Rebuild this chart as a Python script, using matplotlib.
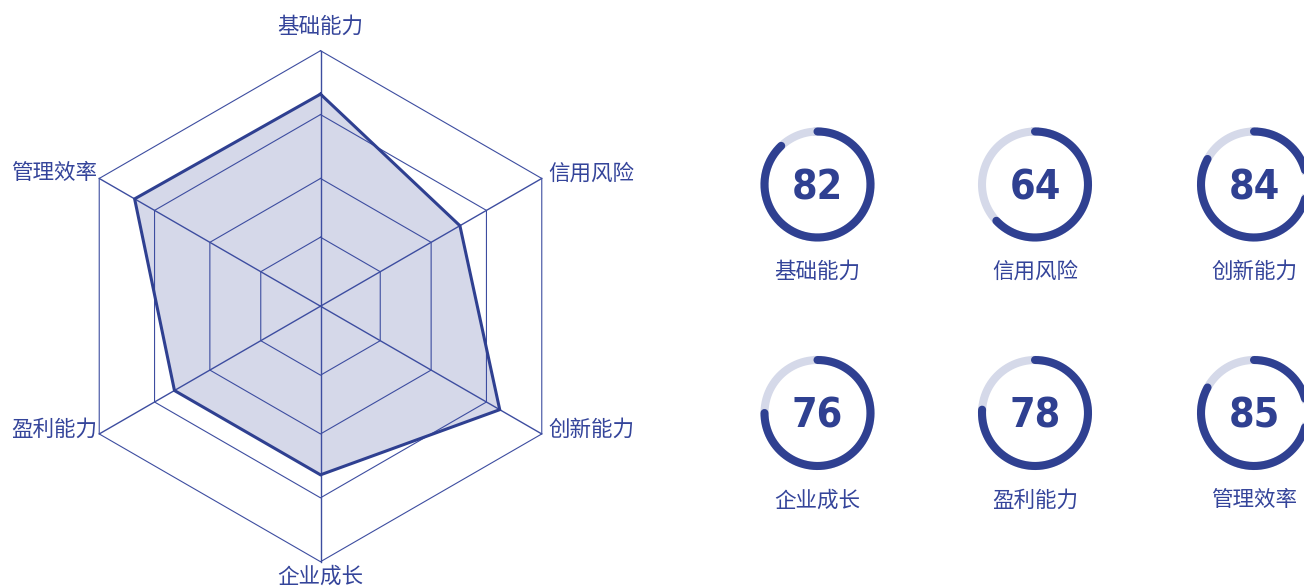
import matplotlib.pyplot as plt
from matplotlib import font_manager
import numpy as np

# radar data (clockwise from top)
radar_labels = ["基础能力", "信用风险", "创新能力", "企业成长", "盈利能力", "管理效率"]
radar_values = [83, 63, 81, 66, 66, 84]
ring_levels = [27, 50, 75, 100]

# gauge data
gauge_labels = ["基础能力", "信用风险", "创新能力", "企业成长", "盈利能力", "管理效率"]
gauge_scores = [82, 64, 84, 76, 78, 85]
gauge_arc_pct = [88, 63, 83, 75, 76, 83]

DARK = "#2f4091"
LIGHT = "#d5d9e9"
GRID = "#3d4da0"
TEXT = "#34449a"

plt.rcParams["font.family"] = ["Noto Sans CJK SC", "DejaVu Sans"]

# look for a condensed bold face for the big numbers
num_font = None
for f in font_manager.fontManager.ttflist:
    name = (f.name + " " + str(f.stretch)).lower()
    if ("narrow" in name or "condensed" in name) and f.weight in (700, "bold"):
        num_font = font_manager.FontProperties(fname=f.fname)
        break
if num_font is None:
    num_font = font_manager.FontProperties(family="DejaVu Sans", weight="bold")

W, H = 1304, 588
fig = plt.figure(figsize=(W / 100, H / 100), dpi=100)


def px_axes(cx, cy, half):
    ax = fig.add_axes([(cx - half) / W, 1 - (cy + half) / H, 2 * half / W, 2 * half / H])
    ax.axis("off")
    return ax


# ---- radar ----
scale = 255.5 / 100  # px per unit
ax = px_axes(320.5, 306.2, 300)
lim = 300 / scale
ax.set_xlim(-lim, lim)
ax.set_ylim(-lim, lim)

ang = np.deg2rad(90 - 60 * np.arange(len(radar_labels)))
cx, sy = np.cos(ang), np.sin(ang)

for lv in ring_levels:
    ax.plot(np.append(cx, cx[0]) * lv, np.append(sy, sy[0]) * lv,
            color=GRID, lw=0.8, clip_on=False)
for i in range(len(ang)):
    ax.plot([0, cx[i] * 100], [0, sy[i] * 100], color=GRID, lw=1.0, clip_on=False)

vals = np.array(radar_values, dtype=float)
px = np.append(cx * vals, cx[0] * vals[0])
py = np.append(sy * vals, sy[0] * vals[0])
ax.fill(px, py, color=DARK, alpha=0.2, lw=0, clip_on=False)
ax.plot(px, py, color=DARK, lw=2.2, clip_on=False, solid_joinstyle="miter")

# label offsets in pixels (dx right, dy down)
offsets = [(0, -24, "center"), (7, -5, "left"), (7, -4, "left"),
           (0, 15, "center"), (-2, -4, "right"), (-2, -5, "right")]
for i, lab in enumerate(radar_labels):
    dx, dy, ha = offsets[i]
    ax.annotate(lab, xy=(cx[i] * 100, sy[i] * 100), xytext=(dx * 0.72, -dy * 0.72),
                textcoords="offset points", ha=ha, va="center",
                fontsize=15.5, color=TEXT, annotation_clip=False)

# ---- gauges ----
col_x = [817.5, 1035, 1254]
row_y = [184.5, 413]
r = 53
for k, (lab, score, pct) in enumerate(zip(gauge_labels, gauge_scores, gauge_arc_pct)):
    gx = col_x[k % 3]
    gy = row_y[k // 3]
    g = px_axes(gx, gy, 70)
    g.set_xlim(-70, 70)
    g.set_ylim(-70, 70)
    t = np.linspace(0, 2 * np.pi, 300)
    g.plot(r * np.sin(t), r * np.cos(t), color=LIGHT, lw=5.8, clip_on=False)
    t = np.linspace(0, 2 * np.pi * pct / 100, 300)
    g.plot(r * np.sin(t), r * np.cos(t), color=DARK, lw=5.8,
           solid_capstyle="round", clip_on=False)
    g.text(0, -15, str(score), ha="center", va="baseline", fontsize=29.5,
           fontproperties=num_font, color=DARK, clip_on=False)
    g.text(0, -87.5, lab, ha="center", va="center", fontsize=15.5, color=TEXT,
           clip_on=False)

fig.savefig("out.png", dpi=100)
